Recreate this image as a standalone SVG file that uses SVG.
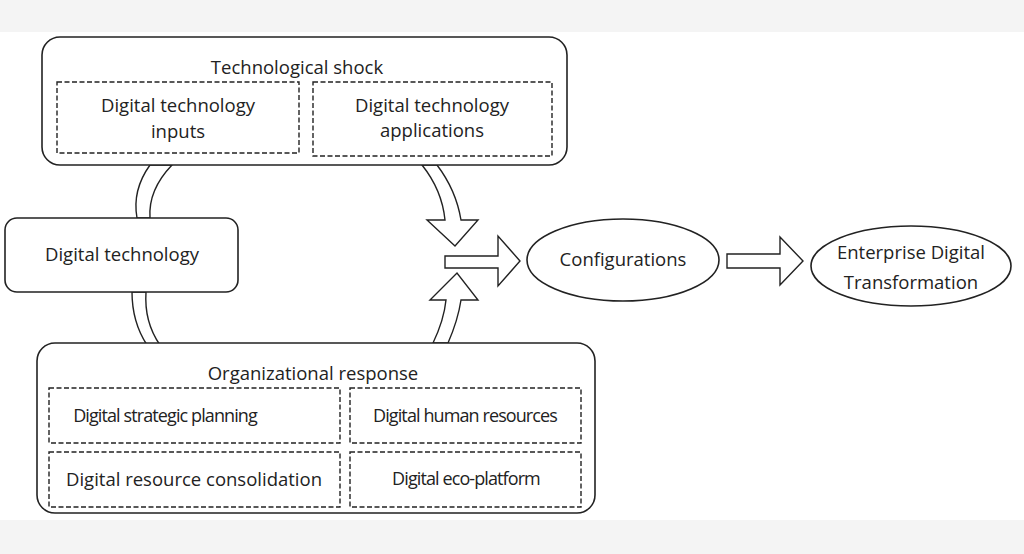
<svg xmlns="http://www.w3.org/2000/svg" width="1024" height="554" viewBox="0 0 1024 554">
<style>
.b{fill:#fff;stroke:#222;stroke-width:1.6}
.d{fill:none;stroke:#222;stroke-width:1.4;stroke-dasharray:5 2.5}
.a{fill:#fff;stroke:#222;stroke-width:1.4}
text{font-family:"Open Sans","Liberation Sans",sans-serif;font-size:18.5px;fill:#222;text-anchor:middle}
.s{font-size:18px;letter-spacing:-0.9px}
</style>
<rect width="1024" height="554" fill="#fff"/>
<rect width="1024" height="32" fill="#f4f4f4"/>
<rect y="520" width="1024" height="34" fill="#f4f4f4"/>
<g id="connectors">
<path class="a" d="M150,165 Q132,190 137,218 L150,218 Q148,190 172,165 Z"/>
<path class="a" d="M132,292 Q132,322 147,345 L160,345 Q144,322 146,292 Z"/>
<path class="a" d="M422,165 Q442,190 445,220 L427,220 L455,246 L478,220 L461,220 Q456,190 437,165 Z"/>
<path class="a" d="M433,343 Q444,320 446,300 L430,300 L457,273 L478,300 L461,300 Q458,320 448,343 Z"/>
<path class="a" d="M445,256 L498,256 L498,236 L520,261 L498,286 L498,268 L445,268 Z"/>
<path class="a" d="M727,254 L780,254 L780,237 L803,261 L780,285 L780,268 L727,268 Z"/>
</g>
<g id="tech-shock">
<rect class="b" x="42" y="37" width="525" height="128" rx="18"/>
<text x="297" y="74">Technological shock</text>
<rect class="d" x="57" y="82" width="242" height="71"/>
<text x="178" y="112">Digital technology</text><text x="178" y="138">inputs</text>
<rect class="d" x="313" y="82" width="239" height="74"/>
<text x="432" y="112">Digital technology</text><text x="432" y="137">applications</text>
</g>
<g id="digital-tech">
<rect class="b" x="5" y="218" width="233" height="74" rx="12"/>
<text x="122" y="261">Digital technology</text>
</g>
<g id="org-response">
<rect class="b" x="37" y="343" width="558" height="170" rx="18"/>
<text x="313" y="380">Organizational response</text>
<rect class="d" x="49" y="388" width="291" height="55"/>
<text class="s" x="165" y="422">Digital strategic planning</text>
<rect class="d" x="350" y="388" width="231" height="55"/>
<text class="s" x="465" y="422">Digital human resources</text>
<rect class="d" x="49" y="452" width="291" height="55"/>
<text x="194" y="486">Digital resource consolidation</text>
<rect class="d" x="350" y="452" width="231" height="55"/>
<text class="s" x="466" y="485">Digital eco-platform</text>
</g>
<g id="configurations">
<ellipse class="b" cx="623" cy="260" rx="96" ry="41"/>
<text x="623" y="266">Configurations</text>
</g>
<g id="edt">
<ellipse class="b" cx="911" cy="266" rx="100" ry="40"/>
<text x="911" y="259">Enterprise Digital</text><text x="911" y="289">Transformation</text>
</g>
</svg>
